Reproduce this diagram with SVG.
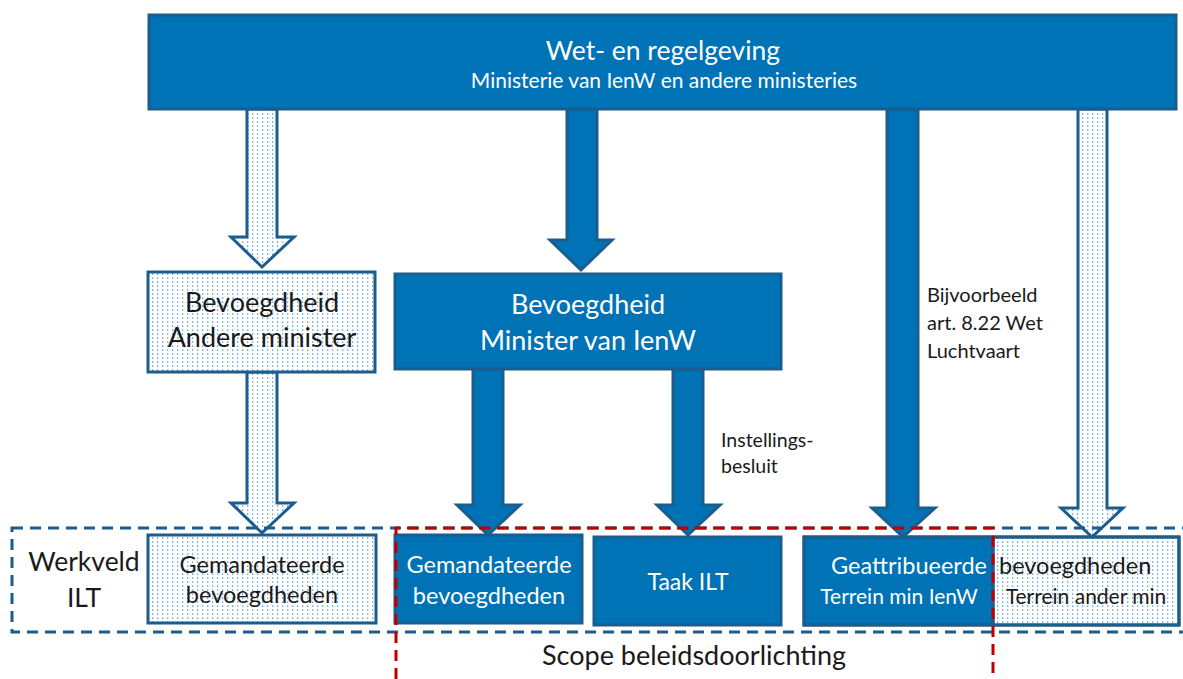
<svg xmlns="http://www.w3.org/2000/svg" width="1183" height="679" viewBox="0 0 1183 679">
<defs>
<pattern id="dots" width="5" height="4" patternUnits="userSpaceOnUse">
<rect width="5" height="4" fill="#ffffff"/>
<rect x="2" y="1.5" width="1.3" height="1.2" fill="#3A8CCB"/>
</pattern>
<style>
.blue{fill:#0073B6;stroke:#1B5D8C;stroke-width:3}
.dot{fill:url(#dots);stroke:#1B5D8C;stroke-width:3}
.t{font-family:Lato,"Liberation Sans",sans-serif;text-anchor:middle;font-weight:400}
.s{text-anchor:start}
.w{fill:#ffffff}
.k{fill:#1a1a1a}
.dashB{fill:none;stroke:#1B5D8C;stroke-width:3;stroke-dasharray:11 7}
.dashR{fill:none;stroke:#C00000;stroke-width:3;stroke-dasharray:11 7}
</style>
</defs>

<g id="connectors">
<path class="dot" d="M247,109 V237 H231 L262,267 L294,237 H277 V109 Z"/>
<path class="blue" d="M567,109 V240 H550 L581,270 L612,240 H597 V109 Z"/>
<path class="dot" d="M247,372 V503 H231 L262,533 L294,503 H277 V372 Z"/>
<path class="blue" d="M473,369 V505 H457 L488,535 L520,505 H503 V369 Z"/>
<path class="blue" d="M673,369 V505 H657 L688,535 L720,505 H703 V369 Z"/>
<path class="blue" d="M887,109 V508 H872 L903,537 L935,508 H918 V109 Z"/>
<path class="dot" d="M1078,109 V508 H1061 L1092,537 L1123,508 H1107 V109 Z"/>
</g>

<g id="top">
<rect class="blue" x="149" y="15" width="1027" height="94"/>
<text class="t w" x="663" y="60" font-size="26.5">Wet- en regelgeving</text>
<text class="t w" x="664" y="88" font-size="21">Ministerie van IenW en andere ministeries</text>
</g>

<g id="andere">
<rect class="dot" x="148" y="272" width="227" height="100"/>
<text class="t k" x="262" y="312" font-size="27">Bevoegdheid</text>
<text class="t k" x="262" y="347" font-size="27">Andere minister</text>
</g>

<g id="ienw">
<rect class="blue" x="395" y="274" width="386" height="95"/>
<text class="t w" x="588" y="314" font-size="27">Bevoegdheid</text>
<text class="t w" x="588" y="350" font-size="27">Minister van IenW</text>
</g>

<g id="werkveld">
<rect class="dashB" x="12" y="528" width="1185" height="104"/>
<text class="t k" x="84" y="571" font-size="26.5">Werkveld</text>
<text class="t k" x="84" y="607" font-size="26.5">ILT</text>
</g>

<g id="gem-left">
<rect class="dot" x="148" y="535" width="228" height="88"/>
<text class="t k" x="262" y="573" font-size="23.5">Gemandateerde</text>
<text class="t k" x="262" y="603" font-size="23.5">bevoegdheden</text>
</g>

<g id="gem-blue">
<rect class="blue" x="395" y="535" width="187" height="88"/>
<text class="t w" x="489" y="573" font-size="23.5">Gemandateerde</text>
<text class="t w" x="489" y="604" font-size="23.5">bevoegdheden</text>
</g>

<g id="taak">
<rect class="blue" x="594" y="537" width="187" height="88"/>
<text class="t w" x="688" y="590" font-size="23">Taak ILT</text>
</g>

<g id="geattribueerde">
<rect class="dot" x="993" y="537" width="186" height="88"/>
<rect class="blue" x="804" y="537" width="189" height="88"/>
<rect x="804" y="537" width="375" height="88" fill="none" stroke="#1B5D8C" stroke-width="3"/>
<text class="t w" x="987" y="574" font-size="23.5" style="text-anchor:end">Geattribueerde</text>
<text class="t k s" x="999" y="574" font-size="23.5">bevoegdheden</text>
<text class="t w" x="899" y="604" font-size="21">Terrein min IenW</text>
<text class="t k" x="1086" y="604" font-size="21">Terrein ander min</text>
</g>

<g id="scope">
<path class="dashR" d="M396,679 V528 H993 V679"/>
<text class="t k" x="694" y="665" font-size="27">Scope beleidsdoorlichting</text>
</g>

<g id="labels">
<text class="t k s" x="721" y="447" font-size="19.5">Instellings-</text>
<text class="t k s" x="721" y="473" font-size="19.5">besluit</text>
<text class="t k s" x="927" y="302" font-size="20">Bijvoorbeeld</text>
<text class="t k s" x="927" y="330" font-size="20">art. 8.22 Wet</text>
<text class="t k s" x="927" y="358" font-size="20">Luchtvaart</text>
</g>
</svg>
